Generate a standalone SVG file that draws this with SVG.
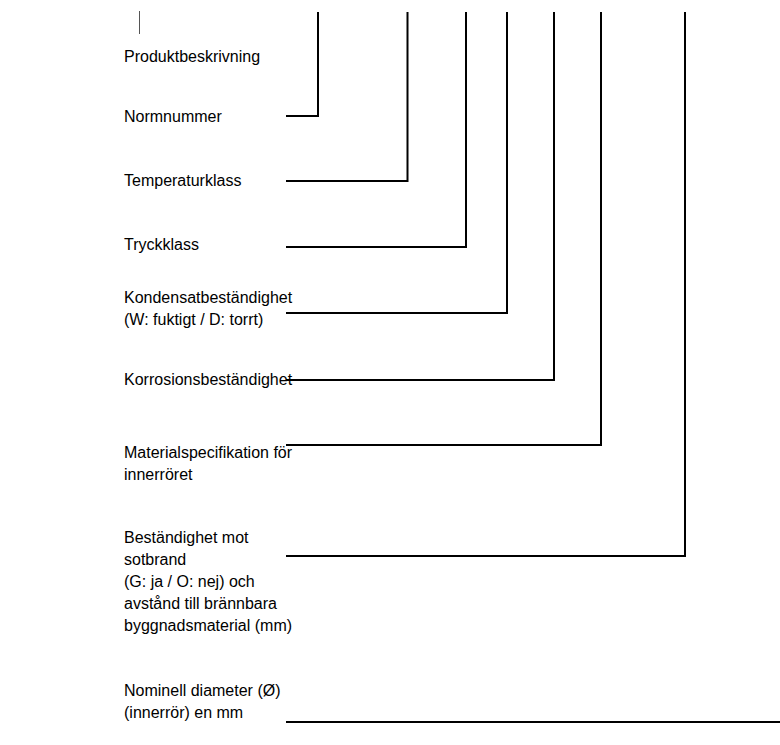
<svg xmlns="http://www.w3.org/2000/svg" width="780" height="745" viewBox="0 0 780 745">
<style>
text{font-family:"Liberation Sans",Arial,sans-serif;font-size:16px;fill:#000}
.c{fill:none;stroke:#000;stroke-width:2}
.t{fill:none;stroke:#555;stroke-width:1}
</style>
<rect width="780" height="745" fill="#fff"/>
<g id="connectors">
<line class="t" x1="139.5" y1="11" x2="139.5" y2="34"/>
<polyline class="c" points="318,12 318,116 286,116"/>
<polyline class="c" points="407.5,12 407.5,181 286,181"/>
<polyline class="c" points="466,12 466,247 286,247"/>
<polyline class="c" points="507,12 507,313 286,313"/>
<polyline class="c" points="554,12 554,380 286,380"/>
<polyline class="c" points="601,12 601,445 286,445"/>
<polyline class="c" points="685,12 685,556 286,556"/>
<line class="c" x1="286" y1="722" x2="780" y2="722"/>
</g>
<g id="produktbeskrivning"><text x="124" y="62">Produktbeskrivning</text></g>
<g id="normnummer"><text x="124" y="122">Normnummer</text></g>
<g id="temperaturklass"><text x="124" y="186">Temperaturklass</text></g>
<g id="tryckklass"><text x="124" y="250">Tryckklass</text></g>
<g id="kondensat"><text x="124" y="303">Kondensatbeständighet</text><text x="124" y="325">(W: fuktigt / D: torrt)</text></g>
<g id="korrosion"><text x="124" y="385">Korrosionsbeständighet</text></g>
<g id="material"><text x="124" y="458">Materialspecifikation för</text><text x="124" y="480">innerröret</text></g>
<g id="sotbrand"><text x="124" y="543">Beständighet mot</text><text x="124" y="565">sotbrand</text><text x="124" y="587">(G: ja / O: nej) och</text><text x="124" y="609">avstånd till brännbara</text><text x="124" y="631">byggnadsmaterial (mm)</text></g>
<g id="diameter"><text x="124" y="696">Nominell diameter (Ø)</text><text x="124" y="718">(innerrör) en mm</text></g>
</svg>
